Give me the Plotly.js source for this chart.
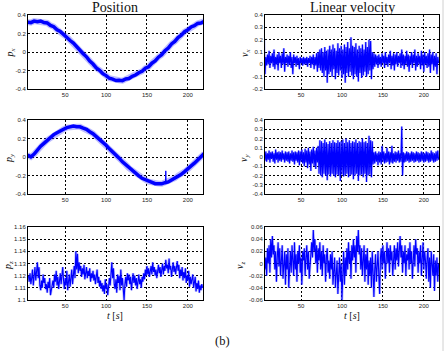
<!DOCTYPE html>
<html><head><meta charset="utf-8">
<script src="https://cdn.plot.ly/plotly-3.0.1.min.js"></script>
<style>html,body{margin:0;padding:0;background:#fff;}#chart{width:445px;height:351px;}</style>
</head><body><div id="chart"></div>
<script>
// ---- data ----
const posStart = 4, posStep = 4;
const px = [0.322,0.318,0.334,0.328,0.335,0.318,0.314,0.288,0.274,0.241,
0.222,0.186,0.163,0.124,0.097,0.054,0.025,-0.019,-0.052,-0.099,
-0.13,-0.172,-0.197,-0.234,-0.255,-0.284,-0.293,-0.309,-0.305,-0.31,
-0.292,-0.287,-0.262,-0.249,-0.224,-0.209,-0.176,-0.159,-0.121,-0.097,
-0.056,-0.029,0.014,0.043,0.087,0.114,0.156,0.181,0.219,0.239,
0.271,0.284,0.309,0.314,0.332];
const py = [0.022,0.002,0.032,0.078,0.117,0.148,0.182,0.208,0.242,0.263,
0.287,0.3,0.318,0.323,0.334,0.328,0.327,0.313,0.3,0.273,
0.252,0.22,0.192,0.156,0.127,0.088,0.057,0.018,-0.013,-0.052,
-0.083,-0.12,-0.148,-0.182,-0.203,-0.23,-0.246,-0.267,-0.276,-0.289,
-0.288,-0.29,-0.278,-0.27,-0.248,-0.23,-0.202,-0.187,-0.158,-0.132,
-0.096,-0.067,-0.028,0.003,0.037];
const pySpikeT = [172.6,173,173.4];
const pySpikeV = [-0.28,-0.15,-0.28];

const noisyStart = 5, noisyStep = 1;
const vx = [0.2,-0.08,0.06,-0.01,0.08,0.0,0.11,-0.03,0.07,0.01,
0.09,-0.02,0.12,-0.04,0.06,0.0,0.08,-0.05,0.1,0.01,
0.07,-0.03,0.09,0.0,0.13,-0.06,0.06,0.01,0.08,-0.02,
0.07,0.0,0.1,-0.03,0.06,-0.08,0.08,0.01,0.06,-0.02,
0.07,0.0,0.05,-0.04,0.06,0.01,0.05,-0.01,0.06,0.0,
0.05,0.0,0.06,-0.02,0.05,0.01,0.07,-0.03,0.06,0.0,
0.08,-0.04,0.06,-0.01,0.09,-0.06,0.1,-0.03,0.12,-0.05,
0.13,-0.07,0.1,-0.1,0.14,-0.05,0.11,-0.15,0.12,-0.08,
0.15,-0.06,0.12,-0.1,0.16,-0.04,0.13,-0.12,0.11,-0.07,
0.17,-0.09,0.13,-0.05,0.15,-0.11,0.12,-0.08,0.16,-0.15,
0.14,-0.07,0.18,-0.1,0.13,-0.06,0.22,-0.09,0.15,-0.12,
0.14,-0.08,0.17,-0.1,0.12,-0.14,0.15,-0.07,0.13,-0.11,
0.16,-0.09,0.12,-0.06,0.18,-0.1,0.14,-0.08,0.2,-0.05,
0.19,-0.12,0.1,-0.04,0.09,-0.02,0.08,0.0,0.07,-0.03,
0.08,0.0,0.06,-0.02,0.09,0.01,0.07,-0.03,0.1,0.0,
0.06,-0.02,0.08,0.01,0.11,-0.04,0.07,-0.01,0.09,-0.05,
0.08,0.0,0.1,-0.02,0.07,0.01,0.09,-0.03,0.12,-0.01,
0.08,-0.04,0.07,0.0,0.11,-0.02,0.08,-0.06,0.07,0.0,
0.1,-0.03,0.08,0.01,0.12,-0.05,0.07,-0.02,0.09,0.0,
0.07,-0.04,0.11,-0.01,0.08,-0.06,0.1,0.0,0.07,-0.03,
0.09,-0.02,0.12,-0.07,0.08,0.0,0.1,-0.05,0.07,-0.02,
0.09,-0.08,0.06,0.01];
const vy = [0.05,-0.04,0.06,-0.05,0.04,-0.03,0.07,-0.06,0.05,-0.02,
0.06,-0.05,0.04,-0.07,0.08,-0.03,0.05,-0.06,0.06,-0.04,
0.05,-0.05,0.07,-0.03,0.04,-0.06,0.06,-0.04,0.05,-0.05,
0.06,-0.07,0.04,-0.04,0.07,-0.05,0.05,-0.08,0.06,-0.04,
0.05,-0.06,0.07,-0.09,0.06,-0.05,0.08,-0.07,0.05,-0.1,
0.09,-0.06,0.07,-0.12,0.1,-0.08,0.06,-0.15,0.08,-0.07,
0.11,-0.1,0.07,-0.13,0.1,-0.06,0.12,-0.18,0.18,-0.2,
0.17,-0.22,0.15,-0.18,0.19,-0.2,0.16,-0.25,0.14,-0.19,
0.17,-0.21,0.15,-0.18,0.18,-0.2,0.16,-0.22,0.15,-0.19,
0.18,-0.2,0.16,-0.26,0.17,-0.19,0.19,-0.21,0.15,-0.2,
0.2,-0.18,0.16,-0.22,0.18,-0.2,0.15,-0.19,0.17,-0.24,
0.16,-0.2,0.19,-0.18,0.15,-0.26,0.17,-0.2,0.16,-0.19,
0.2,-0.22,0.16,-0.18,0.17,-0.27,0.15,-0.2,0.23,-0.19,
0.18,-0.22,0.17,-0.08,0.05,-0.07,0.06,-0.05,0.04,-0.09,
0.06,-0.06,0.05,-0.08,0.12,-0.05,0.06,-0.07,0.04,-0.06,
0.1,-0.05,0.06,-0.08,0.05,-0.06,0.12,-0.07,0.04,-0.05,
0.06,-0.06,0.05,-0.04,0.07,-0.06,0.04,-0.05,0.33,-0.2,
0.05,-0.06,0.04,-0.05,0.06,-0.04,0.05,-0.06,0.04,-0.05,
0.06,-0.04,0.05,-0.06,0.04,-0.05,0.06,-0.04,0.05,-0.06,
0.04,-0.05,0.06,-0.04,0.05,-0.06,0.04,-0.05,0.06,-0.04,
0.05,-0.06,0.04,-0.05,0.07,-0.04,0.05,-0.06,0.04,-0.05,
0.06,-0.04,0.07,-0.03];
const pz = [1.12,1.115,1.122,1.113,1.118,1.125,1.112,1.12,1.127,1.116,
1.124,1.131,1.118,1.127,1.112,1.108,1.116,1.11,1.121,1.114,
1.118,1.109,1.113,1.106,1.115,1.11,1.118,1.104,1.108,1.112,
1.116,1.11,1.121,1.115,1.124,1.112,1.119,1.109,1.117,1.122,
1.113,1.12,1.127,1.116,1.109,1.118,1.112,1.124,1.108,1.115,
1.121,1.111,1.117,1.125,1.113,1.12,1.128,1.118,1.14,1.125,
1.138,1.122,1.131,1.124,1.128,1.119,1.126,1.121,1.129,1.117,
1.123,1.127,1.118,1.124,1.12,1.126,1.115,1.122,1.118,1.124,
1.116,1.121,1.113,1.12,1.125,1.114,1.119,1.111,1.116,1.109,
1.114,1.107,1.112,1.105,1.117,1.109,1.113,1.104,1.111,1.118,
1.112,1.124,1.131,1.118,1.126,1.113,1.109,1.117,1.106,1.121,
1.114,1.12,1.108,1.125,1.112,1.118,1.106,1.1,1.113,1.119,
1.111,1.122,1.116,1.121,1.113,1.119,1.108,1.117,1.122,1.114,
1.12,1.112,1.118,1.109,1.115,1.121,1.113,1.117,1.11,1.119,
1.115,1.122,1.117,1.125,1.12,1.128,1.121,1.126,1.119,1.124,
1.128,1.121,1.131,1.123,1.127,1.12,1.125,1.118,1.123,1.129,
1.122,1.127,1.119,1.125,1.13,1.121,1.128,1.124,1.133,1.126,
1.129,1.122,1.134,1.125,1.128,1.119,1.127,1.131,1.123,1.128,
1.121,1.126,1.132,1.124,1.129,1.118,1.125,1.12,1.127,1.116,
1.123,1.118,1.126,1.114,1.12,1.116,1.124,1.111,1.119,1.113,
1.117,1.121,1.11,1.115,1.119,1.107,1.114,1.109,1.116,1.106,
1.112,1.108,1.113,1.11];
const vz = [0.02,-0.01,0.01,-0.02,0.025,0.0,0.03,-0.015,0.04,0.01,
0.045,0.015,0.03,-0.01,0.02,-0.03,0.01,0.035,-0.005,0.025,
-0.02,0.01,0.03,-0.025,0.0,0.02,-0.035,0.015,-0.01,0.025,
-0.04,0.0,0.02,-0.015,0.03,0.005,-0.02,0.035,-0.01,0.015,
-0.03,0.02,0.0,0.03,-0.015,0.01,-0.035,0.02,0.005,0.025,
-0.02,0.01,0.03,-0.01,0.02,-0.025,0.005,0.015,0.035,0.01,
0.055,0.02,0.04,0.0,0.03,-0.015,0.025,0.005,0.035,-0.01,
0.02,-0.02,0.03,0.0,0.015,-0.03,0.01,0.025,-0.015,0.005,
-0.025,0.015,-0.01,0.02,-0.035,0.0,0.01,-0.04,-0.015,0.005,
-0.05,-0.02,0.01,-0.03,0.0,-0.06,-0.015,0.02,-0.035,0.01,
-0.02,0.025,-0.01,0.035,0.0,0.02,-0.025,0.03,0.005,0.04,
0.01,0.03,-0.015,0.045,0.02,0.055,0.015,0.03,-0.01,0.025,
-0.02,0.01,0.03,-0.03,0.015,-0.01,0.025,-0.035,0.005,-0.02,
0.01,-0.04,0.02,-0.015,-0.055,-0.01,0.015,-0.03,0.0,0.02,
-0.02,-0.05,0.01,0.025,-0.01,0.03,0.0,0.02,-0.025,0.015,
0.035,0.0,0.025,-0.015,0.03,0.005,0.02,-0.02,0.01,0.03,
-0.01,0.025,0.005,0.035,-0.005,0.02,0.045,0.01,0.03,-0.015,
0.02,0.0,0.03,-0.02,0.015,0.005,0.025,-0.01,0.035,0.0,
0.02,-0.025,0.01,0.03,-0.005,0.04,0.015,0.025,-0.015,0.02,
0.0,0.03,-0.02,0.015,0.035,-0.01,0.02,0.005,-0.025,0.01,
0.025,-0.03,0.01,-0.04,0.02,0.0,-0.02,0.015,-0.045,0.005,
-0.02,0.01,-0.03,0.0];

// ---- tick labels ----
const xTicks = [50,100,150,200];
const xTickText = ['50','100','150','200'];
const pTicks = [-0.4,-0.2,0,0.2,0.4];
const pTickText = ['-0.4','-0.2','0','0.2','0.4'];
const vxTicks = [-0.2,-0.1,0,0.1,0.2,0.3,0.4];
const vxTickText = ['-0.2','-0.1','0','0.1','0.2','0.3','0.4'];
const vyTicks = [-0.4,-0.3,-0.2,-0.1,0,0.1,0.2,0.3,0.4];
const vyTickText = ['-0.4','-0.3','-0.2','-0.1','0','0.1','0.2','0.3','0.4'];
const pzTicks = [1.1,1.11,1.12,1.13,1.14,1.15,1.16];
const pzTickText = ['1.1','1.11','1.12','1.13','1.14','1.15','1.16'];
const vzTicks = [-0.06,-0.04,-0.02,0,0.02,0.04,0.06];
const vzTickText = ['-0.06','-0.04','-0.02','0','0.02','0.04','0.06'];

// ---- build ----
const W = 445, H = 351;
const BLUE = '#0000ff', HALO = 'rgba(70,70,255,0.35)';
function line(y, x0, dx, xa, ya, w, c) {
  return {type:'scatter', mode:'lines', y:y, x0:x0, dx:dx, xaxis:xa, yaxis:ya,
          line:{color:c, width:w}, hoverinfo:'skip', showlegend:false};
}
const data = [
  line(px, posStart, posStep, 'x', 'y', 6, HALO),
  line(px, posStart, posStep, 'x', 'y', 3.5, BLUE),
  line(vx, noisyStart, noisyStep, 'x2', 'y2', 2.4, HALO),
  line(vx, noisyStart, noisyStep, 'x2', 'y2', 1.1, BLUE),
  line(py, posStart, posStep, 'x3', 'y3', 6, HALO),
  line(py, posStart, posStep, 'x3', 'y3', 3.5, BLUE),
  {type:'scatter', mode:'lines', x:pySpikeT, y:pySpikeV, xaxis:'x3', yaxis:'y3',
   line:{color:BLUE, width:1}, hoverinfo:'skip', showlegend:false},
  line(vy, noisyStart, noisyStep, 'x4', 'y4', 2.4, HALO),
  line(vy, noisyStart, noisyStep, 'x4', 'y4', 1.1, BLUE),
  line(pz, noisyStart, noisyStep, 'x5', 'y5', 2.6, HALO),
  line(pz, noisyStart, noisyStep, 'x5', 'y5', 1.1, BLUE),
  line(vz, noisyStart, noisyStep, 'x6', 'y6', 2.6, HALO),
  line(vz, noisyStart, noisyStep, 'x6', 'y6', 1.1, BLUE)
];

const tickFont = {family:'"Liberation Sans", Arial, sans-serif', size:6, color:'#222'};
function axBase() {
  return {showline:true, mirror:true, linecolor:'#000', linewidth:1,
          showgrid:true, gridcolor:'#000', gridwidth:1, griddash:'2px,2px',
          zeroline:false, ticks:'', tickfont:tickFont, fixedrange:true};
}
function xAx(dom, range, anchor) {
  return Object.assign(axBase(), {domain:dom, range:range, anchor:anchor,
    tickmode:'array', tickvals:xTicks, ticktext:xTickText});
}
function yAx(dom, range, anchor, tv, tt) {
  return Object.assign(axBase(), {domain:dom, range:range, anchor:anchor,
    tickmode:'array', tickvals:tv, ticktext:tt});
}
const L = [28/W, 203/W], R = [265/W, 439/W];
const r1 = [1-89/H, 1-15/H], r2 = [1-194/H, 1-120/H], r3 = [1-300/H, 1-227/H];
const xrL = [4.5, 218.5], xrR = [6, 218.5];

const SERIF = '"Liberation Serif", "Times New Roman", serif';
function ann(text, xpx, ypx, size, angle) {
  return {text:text, x:xpx/W, y:1-ypx/H, xref:'paper', yref:'paper',
          showarrow:false, xanchor:'center', yanchor:'middle', textangle:angle||0,
          font:{family:SERIF, size:size, color:'#111'}};
}
const layout = {
  width:W, height:H, margin:{l:0,r:0,t:0,b:0},
  paper_bgcolor:'#fff', plot_bgcolor:'#fff', showlegend:false,
  xaxis: xAx(L, xrL, 'y'),   yaxis: yAx(r1, [-0.4,0.4], 'x', pTicks, pTickText),
  xaxis2: xAx(R, xrR, 'y2'), yaxis2: yAx(r1, [-0.2,0.4], 'x2', vxTicks, vxTickText),
  xaxis3: xAx(L, xrL, 'y3'), yaxis3: yAx(r2, [-0.4,0.4], 'x3', pTicks, pTickText),
  xaxis4: xAx(R, xrR, 'y4'), yaxis4: yAx(r2, [-0.4,0.4], 'x4', vyTicks, vyTickText),
  xaxis5: xAx(L, xrL, 'y5'), yaxis5: yAx(r3, [1.1,1.16], 'x5', pzTicks, pzTickText),
  xaxis6: xAx(R, xrR, 'y6'), yaxis6: yAx(r3, [-0.06,0.06], 'x6', vzTicks, vzTickText),
  annotations: [
    ann('Position', 115, 8, 14),
    ann('Linear velocity', 352, 8, 14),
    ann('<i>p<sub>x</sub></i>', 9.5, 53, 10, -90),
    ann('<i>v<sub>x</sub></i>', 245, 53, 10, -90),
    ann('<i>p<sub>y</sub></i>', 9, 158, 10, -90),
    ann('<i>v<sub>y</sub></i>', 244, 158, 10, -90),
    ann('<i>p<sub>z</sub></i>', 8, 266, 10, -90),
    ann('<i>v<sub>z</sub></i>', 240, 266, 10, -90),
    ann('<i>t</i> [<i>s</i>]', 115, 315, 10),
    ann('<i>t</i> [<i>s</i>]', 352, 315, 10),
    ann('(b)', 222, 341, 12.5)
  ],
  shapes: [
    {type:'line', xref:'paper', yref:'paper', x0:443/W, x1:443/W, y0:0, y1:1,
     line:{color:'#d0d0d0', width:1}}
  ]
};
Plotly.newPlot('chart', data, layout, {staticPlot:true, displayModeBar:false});
</script>
</body></html>
